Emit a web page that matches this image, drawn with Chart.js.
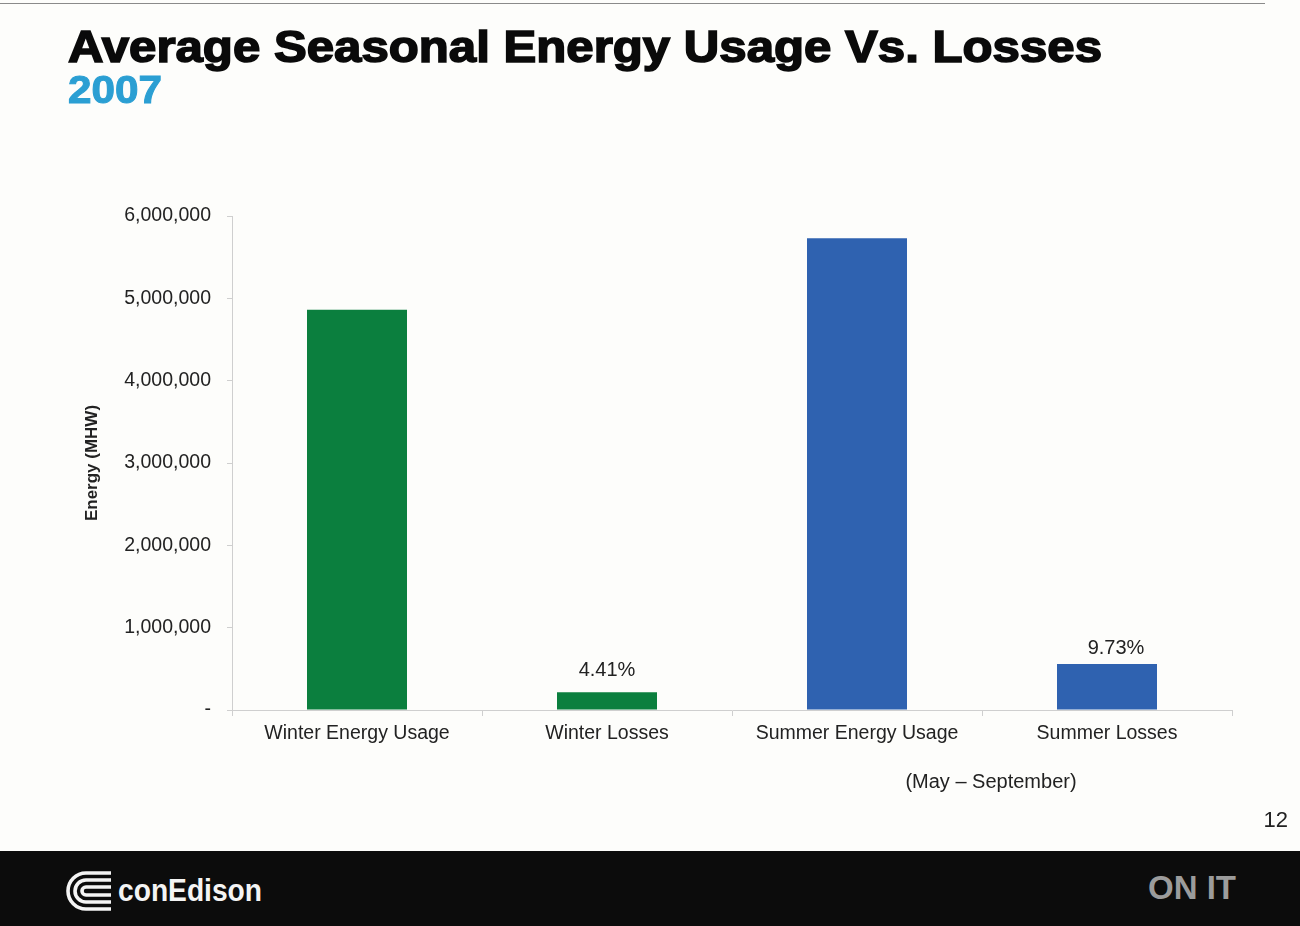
<!DOCTYPE html>
<html>
<head>
<meta charset="utf-8">
<title>Average Seasonal Energy Usage Vs. Losses</title>
<script src="https://cdn.jsdelivr.net/npm/chart.js@4.4.1/dist/chart.umd.min.js"></script>
<style>
  html, body { margin: 0; padding: 0; background: #fdfdfb; }
  #slide { position: relative; width: 1300px; height: 926px; overflow: hidden; background: #fdfdfb; font-family: "Liberation Sans", Arial, sans-serif; }
  #topline { position: absolute; left: 0; top: 3px; width: 1265px; height: 1px; background: #8a8a8a; }
  .fit { position: absolute; white-space: nowrap; transform-origin: 0 0; line-height: 1; }
  #titre { left: 68px; top: 25px; font-weight: bold; font-size: 44px; color: #0a0a0a; -webkit-text-stroke: 1.6px #0a0a0a; }
  #annee { left: 68px; top: 71px; font-weight: bold; font-size: 38px; color: #2b9fd3; -webkit-text-stroke: 1px #2b9fd3; }
  #page { position: absolute; right: 12px; top: 807px; font-size: 22px; color: #222; }
  #pied { position: absolute; left: 0; top: 851px; width: 1300px; height: 75px; background: #0c0c0c; }
  #logo { position: absolute; left: 66px; top: 871px; }
  #marque { left: 118px; top: 874px; font-weight: bold; font-size: 32px; color: #f4f4f4; }
  #slogan { left: 1148px; top: 870px; font-weight: bold; font-size: 34px; color: #9c9c9c; }
  canvas { position: absolute; left: 0; top: 0; }
</style>
</head>
<body>
<div id="slide">
  <canvas id="graphe" width="1300" height="926"></canvas>
  <div id="topline"></div>
  <div id="titre" class="fit" data-w="1034">Average Seasonal Energy Usage Vs. Losses</div>
  <div id="annee" class="fit" data-w="94">2007</div>
  <div id="page">12</div>
  <div id="pied"></div>
  <svg id="logo" width="46" height="40" viewBox="0 0 46 40">
    <g fill="none" stroke="#f4f4f4" stroke-width="3.6">
      <path d="M45 2 H20 A18 18 0 0 0 20 38 H45"/>
      <path d="M45 9 H20 A11 11 0 0 0 20 31 H45"/>
      <path d="M45 16 H20 A4 4 0 0 0 20 24 H45"/>
    </g>
  </svg>
  <div id="marque" class="fit" data-w="144">conEdison</div>
  <div id="slogan" class="fit" data-w="88">ON IT</div>
</div>
<script>
// saisons 2007 : consommation et pertes (MWh)
const categories = ['Winter Energy Usage', 'Winter Losses', 'Summer Energy Usage', 'Summer Losses'];
const energie = [4860000, 214300, 5730000, 557500];
const couleurs = ['#0b7f3e', '#0b7f3e', '#2f62b0', '#2f62b0'];
const yTicks = [0, 1000000, 2000000, 3000000, 4000000, 5000000, 6000000];
const periodeEte = '(May \u2013 September)';

// pertes en % de la consommation de la meme saison
const pertesIdx = [1, 3];
const pertesTxt = pertesIdx.map(i => (energie[i] / energie[i - 1] * 100).toFixed(2) + '%');

// ajuste la largeur des textes html
document.querySelectorAll('.fit').forEach(el => {
  const w = el.getBoundingClientRect().width;
  el.style.transform = 'scaleX(' + (el.dataset.w / w) + ')';
});

const police = '"Liberation Sans", Arial, sans-serif';

const fond = {
  id: 'fond',
  beforeDraw(chart) {
    const ctx = chart.ctx;
    ctx.save();
    ctx.fillStyle = '#fdfdfb';
    ctx.fillRect(0, 0, chart.width, chart.height);
    ctx.restore();
  }
};

const etiquettes = {
  id: 'etiquettes',
  afterDatasetsDraw(chart) {
    const ctx = chart.ctx;
    const meta = chart.getDatasetMeta(0);
    const x = chart.scales.x;
    ctx.save();
    ctx.fillStyle = '#222';
    ctx.font = '20px ' + police;
    ctx.textAlign = 'center';
    ctx.textBaseline = 'middle';
    pertesIdx.forEach((i, k) => {
      const bar = meta.data[i];
      // l'etiquette d'ete est un peu decalee sur la droite
      const dx = i === 3 ? 9 : 0;
      const dy = i === 3 ? 16 : 22;
      ctx.fillText(pertesTxt[k], bar.x + dx, bar.y - dy);
    });
    ctx.font = '20px ' + police;
    const mx = (x.getPixelForValue(2) + x.getPixelForValue(3)) / 2 + 9;
    ctx.fillText(periodeEte, mx, x.bottom + 22);
    ctx.restore();
  }
};

new Chart(document.getElementById('graphe'), {
  type: 'bar',
  data: {
    labels: categories,
    datasets: [{
      data: energie,
      backgroundColor: couleurs,
      barPercentage: 0.4,
      categoryPercentage: 1
    }]
  },
  options: {
    responsive: false,
    animation: false,
    layout: { padding: { left: 78, top: 216, right: 68, bottom: 166 } },
    plugins: { legend: { display: false }, tooltip: { enabled: false } },
    scales: {
      x: {
        afterFit: s => { s.height = 50; },
        grid: { offset: true, drawOnChartArea: false, tickLength: 6, color: '#cfcfcf' },
        border: { color: '#cfcfcf' },
        ticks: { color: '#222', padding: 6, maxRotation: 0, font: { size: 19.5, family: police } }
      },
      y: {
        min: 0,
        max: 6000000,
        afterFit: s => { s.width = 154; },
        afterBuildTicks: s => { s.ticks = yTicks.map(v => ({ value: v })); },
        grid: { drawOnChartArea: false, tickLength: 5, color: '#cfcfcf' },
        border: { color: '#cfcfcf' },
        ticks: {
          color: '#222',
          padding: 16,
          font: { size: 19.5, family: police },
          callback: v => v === 0 ? '-' : v.toLocaleString('en-US')
        },
        title: {
          display: true,
          text: 'Energy (MHW)',
          color: '#222',
          font: { size: 17, weight: 'bold', family: police }
        }
      }
    }
  },
  plugins: [fond, etiquettes]
});
</script>
</body>
</html>
